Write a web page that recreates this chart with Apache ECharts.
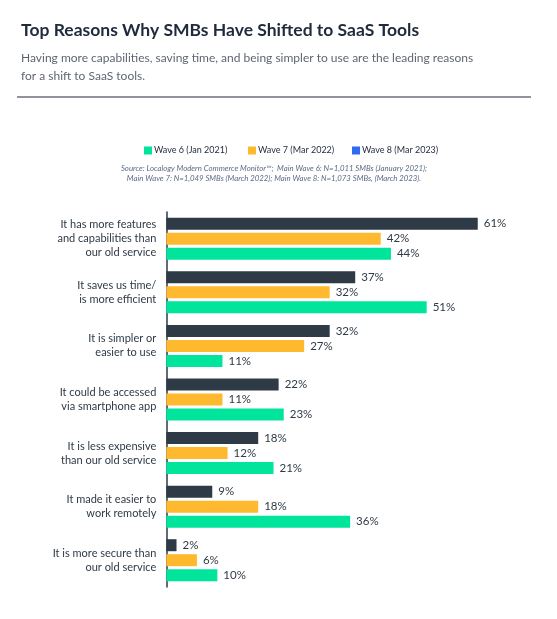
<!DOCTYPE html>
<html>
<head>
<meta charset="utf-8">
<script src="https://cdn.jsdelivr.net/npm/echarts@6/dist/echarts.min.js"></script>
<style>html,body{margin:0;padding:0;background:#fff}#c{width:557px;height:619px}</style>
</head>
<body>
<div id="c"></div>
<script>
var categories = [
  "It has more features\nand capabilities than\nour old service",
  "It saves us time/\nis more efficient",
  "It is simpler or\neasier to use",
  "It could be accessed\nvia smartphone app",
  "It is less expensive\nthan our old service",
  "It made it easier to\nwork remotely",
  "It is more secure than\nour old service"
];
var seriesNames = ["Wave 6 (Jan 2021)", "Wave 7 (Mar 2022)", "Wave 8 (Mar 2023)"];
var wave8 = [61, 37, 32, 22, 18, 9, 2];
var wave7 = [42, 32, 27, 11, 12, 18, 6];
var wave6 = [44, 51, 11, 23, 21, 36, 10];

var FONT = 'Lato, "Noto Sans", sans-serif';
var DARK = '#2e3a46';
var chart = echarts.init(document.getElementById('c'));
var labelCfg = {show: true, position: 'right', distance: 6, formatter: '{c}%', fontSize: 11.5, color: DARK, fontFamily: FONT};
function legendAt(x, name, color) {
  var item = {name: name};
  if (color) item.itemStyle = {color: color};
  return {left: x, top: 146, itemWidth: 8, itemHeight: 8, icon: 'rect', padding: 0,
    textStyle: {fontFamily: FONT, fontSize: 9, color: '#1f2a3c', padding: [0, 0, 0, -3]},
    data: [item]};
}
chart.setOption({
  animation: false,
  title: [
    {text: 'Top Reasons Why SMBs Have Shifted to SaaS Tools', left: 16, top: 16,
     textStyle: {fontFamily: FONT, fontWeight: 'bold', fontSize: 17.5, color: '#1f2a3c'}},
    {text: 'Having more capabilities, saving time, and being simpler to use are the leading reasons\nfor a shift to SaaS tools.',
     left: 16, top: 44, textStyle: {fontFamily: FONT, fontWeight: 'normal', fontSize: 12, lineHeight: 18, color: '#5f6673'}}
  ],
  graphic: [
    {type: 'line', shape: {x1: 17, y1: 97, x2: 531, y2: 97}, style: {stroke: '#6b7079', lineWidth: 1.5}},
    {type: 'text', x: 274, y: 163, style: {
      text: 'Source: Localogy Modern Commerce Monitor\u2122;  Main Wave 6: N=1,011 SMBs (January 2021);\nMain Wave 7: N=1,049 SMBs (March 2022); Main Wave 8: N=1,073 SMBs, (March 2023).',
      align: 'center', fontFamily: FONT, fontStyle: 'italic', fontSize: 7.8, lineHeight: 10, fill: '#5b6b85'}}
  ],
  legend: [
    legendAt(144, seriesNames[0]),
    legendAt(248, seriesNames[1]),
    legendAt(352, seriesNames[2], '#2f6bf0')
  ],
  grid: {left: 166.3, top: 212, width: 357.4, height: 375, containLabel: false},
  xAxis: {type: 'value', min: 0, max: 70, show: false, splitLine: {show: false}},
  yAxis: {
    type: 'category', data: categories, inverse: true,
    axisLine: {show: true, lineStyle: {color: DARK, width: 1.5}},
    axisTick: {show: false},
    axisLabel: {fontFamily: FONT, fontSize: 11, color: DARK, lineHeight: 14, margin: 10, align: 'right'}
  },
  series: [
    {name: seriesNames[2], type: 'bar', data: wave8, barWidth: 12, barGap: '25%', itemStyle: {color: DARK}, label: labelCfg},
    {name: seriesNames[1], type: 'bar', data: wave7, barWidth: 12, barGap: '25%', itemStyle: {color: '#ffb92e'}, label: labelCfg},
    {name: seriesNames[0], type: 'bar', data: wave6, barWidth: 12, barGap: '25%', itemStyle: {color: '#00e59b'}, label: labelCfg}
  ]
});
</script>
</body>
</html>
